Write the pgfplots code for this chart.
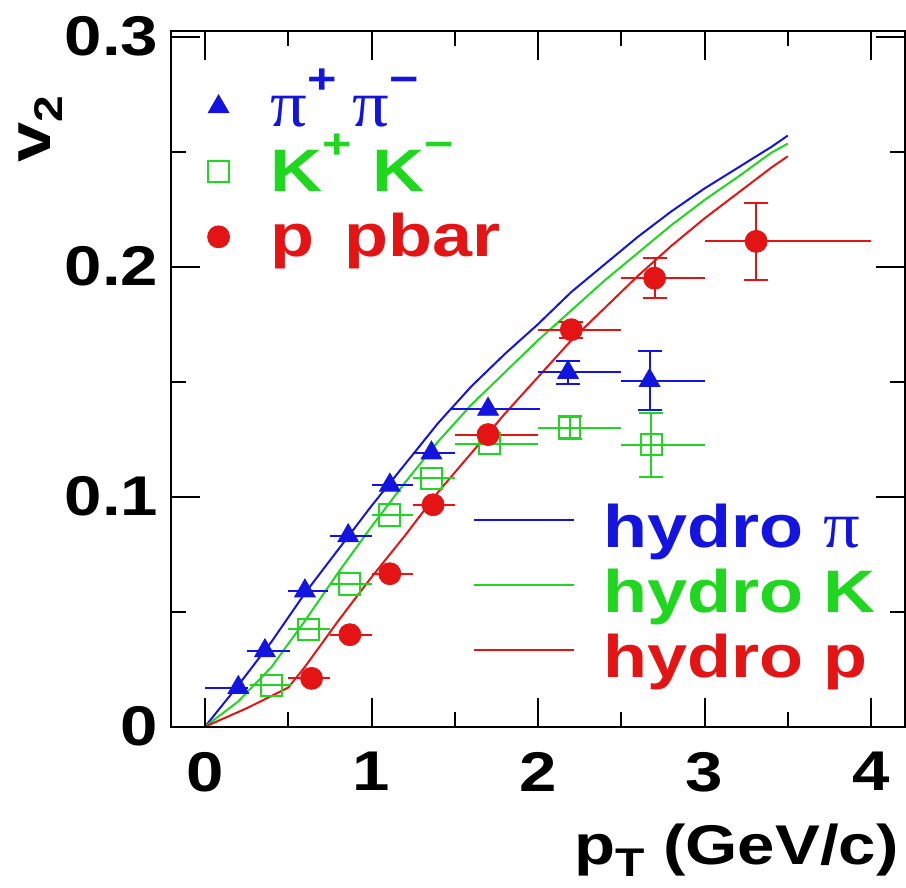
\documentclass[border=0pt]{standalone}
\usepackage{fontspec}
\setmainfont{Liberation Sans}[FakeStretch=1.2]
\newfontfamily\pifont{Liberation Serif}[FakeStretch=1.1]
\usepackage{pgfplots}
\pgfplotsset{compat=1.18}
\definecolor{cb}{RGB}{20,20,225}
\definecolor{cg}{RGB}{30,215,30}
\definecolor{cr}{RGB}{228,20,20}
\newcommand\F{\fontsize{28}{32}\selectfont\bfseries}
\newcommand\LF{\fontsize{30}{34}\selectfont\bfseries}
\newcommand\sups[1]{\smash{\raisebox{0.55em}{\fontsize{21}{21}\selectfont #1}}}
\newcommand\subs[1]{\raisebox{-6pt}{\fontsize{20}{20}\selectfont #1}}
\newcommand\PI{{\pifont\mdseries\fontsize{33}{33}\selectfont π}}
\newcommand\LS{\rule[-7pt]{0pt}{30pt}}

\pgfplotstableread{
x y
0 0
0.2 0.018
0.4 0.037
0.6 0.058
0.8 0.077
1.0 0.096
1.2 0.114
1.4 0.132
1.6 0.148
1.8 0.162
2.0 0.175
2.2 0.189
2.4 0.201
2.6 0.213
2.8 0.224
3.0 0.234
3.2 0.243
3.4 0.252
3.5 0.257
}\hydropi
\pgfplotstableread{
x y
0 0
0.2 0.011
0.4 0.026
0.6 0.046
0.8 0.067
1.0 0.087
1.2 0.106
1.4 0.124
1.6 0.140
1.8 0.154
2.0 0.168
2.2 0.181
2.4 0.194
2.6 0.206
2.8 0.218
3.0 0.229
3.2 0.239
3.4 0.2495
3.5 0.2535
}\hydroK
\pgfplotstableread{
x y
0 0
0.25 0.008
0.5 0.017
0.6 0.026
0.8 0.046
1.0 0.065
1.2 0.083
1.4 0.102
1.6 0.119
1.8 0.136
2.0 0.152
2.2 0.168
2.4 0.182
2.6 0.196
2.8 0.209
3.0 0.221
3.2 0.232
3.4 0.243
3.5 0.248
}\hydrop

% data: x y xminus xplus
\pgfplotstableread{
x y xm xp
0.20 0.0170 0.20 0.06
0.36 0.0330 0.11 0.15
0.60 0.0590 0.10 0.14
0.86 0.0830 0.11 0.14
1.11 0.1050 0.11 0.14
1.36 0.1190 0.11 0.14
1.70 0.1380 0.22 0.31
2.18 0.1540 0.18 0.32
2.67 0.1505 0.17 0.33
}\pion
\pgfplotstableread{
x y ey
2.18 0.1540 0.0050
2.67 0.1505 0.0130
}\pionerr
\pgfplotstableread{
x y xm xp
0.40 0.0180 0.13 0.12
0.62 0.0424 0.12 0.13
0.87 0.0620 0.12 0.13
1.11 0.0920 0.11 0.14
1.36 0.1080 0.11 0.14
1.71 0.1230 0.21 0.29
2.19 0.1300 0.19 0.31
2.68 0.1226 0.18 0.32
}\kaon
\pgfplotstableread{
x y ey
2.19 0.1300 0.0050
2.68 0.1226 0.0140
}\kaonerr
\pgfplotstableread{
x y xm xp
0.64 0.0210 0.14 0.11
0.87 0.0400 0.12 0.13
1.11 0.0665 0.11 0.14
1.37 0.0965 0.12 0.13
1.70 0.1270 0.20 0.30
2.20 0.1726 0.20 0.30
2.70 0.1950 0.20 0.30
3.31 0.2110 0.31 0.69
}\proton
\pgfplotstableread{
x y ey
2.20 0.1726 0.0035
2.70 0.1950 0.0087
3.31 0.2110 0.0166
}\protonerr

\pgfplotsset{
  xbars/.style={#1, only marks, mark=text, text mark={}, forget plot,
    error bars/.cd, x dir=both, x explicit, error mark=none,
    error bar style={#1, line width=1pt}},
  ybars/.style={#1, only marks, mark=text, text mark={}, forget plot,
    error bars/.cd, y dir=both, y explicit, error mark=|,
    error bar style={#1, line width=1pt},
    error mark options={#1, line width=1pt, mark size=6pt}},
}

\begin{document}
\begin{tikzpicture}
% hydro curves with their own legend
\begin{axis}[
  scale only axis, width=367.15pt, height=348pt,
  xmin=-0.206, xmax=4.204, ymin=0, ymax=0.3026,
  hide axis,
  legend style={draw=none, fill=none, at={(0.966,0.33)}, anchor=north east,
    font=\LF, row sep=4pt, inner sep=0pt, cells={anchor=west}},
  legend image code/.code={\path[draw=none, fill=none] (0pt,0pt) -- (63pt,0pt);\draw[#1, line width=1pt] (0pt,3pt) -- (50pt,3pt);},
]
\addplot[cb, line width=1pt] table {\hydropi};
\addlegendentry{\LS\textcolor{cb}{hydro \PI}}
\addplot[cg, line width=1pt] table {\hydroK};
\addlegendentry{\LS\textcolor{cg}{hydro K}}
\addplot[cr, line width=1pt] table {\hydrop};
\addlegendentry{\LS\textcolor{cr}{hydro p}}
\end{axis}

\begin{axis}[
  scale only axis, width=367.15pt, height=348pt,
  xmin=-0.206, xmax=4.204, ymin=0, ymax=0.3026,
  clip=false,
  xtick={0,1,2,3,4}, ytick={0,0.1,0.2,0.3},
  minor xtick={0.5,1.5,2.5,3.5}, minor ytick={0.05,0.15,0.25},
  major tick length=14.5pt, minor tick length=7.5pt,
  tick style={black, line width=1pt},
  axis line style={line width=1.1pt},
  tick align=inside,
  /pgf/number format/assume math mode=true,
  xticklabel style={font=\F, inner sep=0pt, yshift=-12.5pt},
  yticklabel style={font=\F, inner sep=0pt, xshift=-6pt},
  legend style={draw=none, fill=none, at={(0.032,0.935)}, anchor=north west,
    font=\LF, row sep=4pt, inner sep=0pt, cells={anchor=west}},
  legend image code/.code={\path[draw=none, fill=none] (0pt,0pt) -- (36pt,0pt);\draw[#1] plot coordinates {(12pt,-1pt)};},
]
\coordinate (SW) at (rel axis cs:0,0);
% horizontal bars
\addplot[xbars=cb] table[x=x, y=y, x error minus=xm, x error plus=xp] {\pion};
\addplot[xbars=cg] table[x=x, y=y, x error minus=xm, x error plus=xp] {\kaon};
\addplot[xbars=cr] table[x=x, y=y, x error minus=xm, x error plus=xp] {\proton};
% vertical bars
\addplot[ybars=cb] table[x=x, y=y, y error=ey] {\pionerr};
\addplot[ybars=cg] table[x=x, y=y, y error=ey] {\kaonerr};
\addplot[ybars=cr] table[x=x, y=y, y error=ey] {\protonerr};
% markers
\addplot[only marks, mark=triangle*, mark size=6pt, cb, mark options={fill=cb, draw=cb}]
  table[x=x, y=y] {\pion};
\addlegendentry{\LS\textcolor{cb}{\PI\sups{+}\hspace{8pt}\PI\sups{−}}}
\addplot[only marks, mark=square, mark size=5.3pt, cg, mark options={draw=cg, line width=1pt}]
  table[x=x, y=y] {\kaon};
\addlegendentry{\LS\textcolor{cg}{K\sups{+}\hspace{10pt}K\sups{−}}}
\addplot[only marks, mark=*, mark size=5.5pt, cr, mark options={fill=cr, draw=cr}]
  table[x=x, y=y] {\proton};
\addlegendentry{\LS\textcolor{cr}{p\hspace{15pt}pbar}}

\node[anchor=base east, inner sep=0pt, font=\F] at ([xshift=-3pt, yshift=-69pt]rel axis cs:1,0) {p\subs{T} (GeV/c)};
\node[rotate=90, anchor=base east, inner sep=0pt, font=\fontsize{30}{34}\selectfont\bfseries] at ([xshift=-60pt]rel axis cs:0,0.9076) {v\subs{2}};
\end{axis}
\pgfresetboundingbox
\path ([shift={(-85.35pt,-80.65pt)}]SW) rectangle ([shift={(367.65pt,363.35pt)}]SW);
\end{tikzpicture}
\end{document}
